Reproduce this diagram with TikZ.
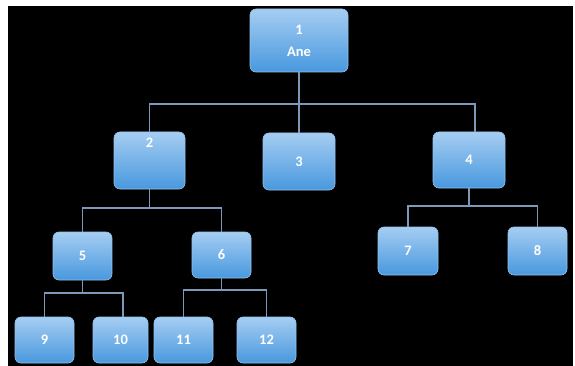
\documentclass[tikz,border=0pt]{standalone}
\usepackage{fontspec}
\setmainfont{Carlito}
\begin{document}
\begin{tikzpicture}[x=1pt,y=-1pt,
  lbl/.style={text=white, font=\bfseries\fontsize{14.5}{16}\selectfont},
  box/.style={draw={rgb,255:red,150;green,195;blue,235}, line width=0.6pt, rounded corners=6pt,
    top color={rgb,255:red,165;green,205;blue,242}, bottom color={rgb,255:red,72;green,152;blue,222},
    inner sep=0pt, outer sep=0pt, lbl, align=center},
  conn/.style={draw={rgb,255:red,125;green,152;blue,185}, line width=1.3pt}]
\useasboundingbox (0,0) rectangle (575,366);
\fill[white] (0,0) rectangle (575,366);
\fill[black] (8,6) rectangle (573,366);
% levels
\coordinate (h1) at (0,104);
\coordinate (h2) at (0,208);
\coordinate (h4) at (0,206);
\coordinate (h5) at (0,293);
\coordinate (h6) at (0,290);
\coordinate (x4) at (475,0);
\coordinate (x10) at (123,0);
% nodes
\node[box, minimum width=98pt, minimum height=63pt] (n1) at (299,40.5) {1\\[6pt]Ane};
\node[box, minimum width=71pt, minimum height=57pt,
  label={[anchor=north, yshift=-2pt, lbl]north:2}] (n2) at (149.5,160.5) {};
\node[box, minimum width=72pt, minimum height=57pt] (n3) at (299,161.5) {3};
\node[box, minimum width=72pt, minimum height=56pt] (n4) at (469,160) {4};
\node[box, minimum width=59pt, minimum height=48pt] (n5) at (82.5,256) {5};
\node[box, minimum width=59pt, minimum height=46pt] (n6) at (221.5,255) {6};
\node[box, minimum width=60pt, minimum height=48pt] (n7) at (408,251) {7};
\node[box, minimum width=59pt, minimum height=48pt] (n8) at (537.5,251) {8};
\node[box, minimum width=59pt, minimum height=46pt] (n9) at (44.5,340) {9};
\node[box, minimum width=55pt, minimum height=46pt] (n10) at (120.5,340) {10};
\node[box, minimum width=59pt, minimum height=46pt] (n11) at (183.5,340) {11};
\node[box, minimum width=59pt, minimum height=46pt] (n12) at (266.5,340) {12};
% connectors
\draw[conn] (n1.south) -- (n3.north);
\draw[conn] (n1.south |- h1) -| (n2.north);
\draw[conn] (n1.south |- h1) -| (x4 |- n4.north);
\draw[conn] (n2.south) -- (n2.south |- h2) -| (n5.north);
\draw[conn] (n2.south |- h2) -| (n6.north);
\draw[conn] (n4.south) -- (n4.south |- h4) -| (n7.north);
\draw[conn] (n4.south |- h4) -| (n8.north);
\draw[conn] (n5.south) -- (n5.south |- h5) -| (n9.north);
\draw[conn] (n5.south |- h5) -| (x10 |- n10.north);
\draw[conn] (n6.south) -- (n6.south |- h6) -| (n11.north);
\draw[conn] (n6.south |- h6) -| (n12.north);
\end{tikzpicture}
\end{document}
